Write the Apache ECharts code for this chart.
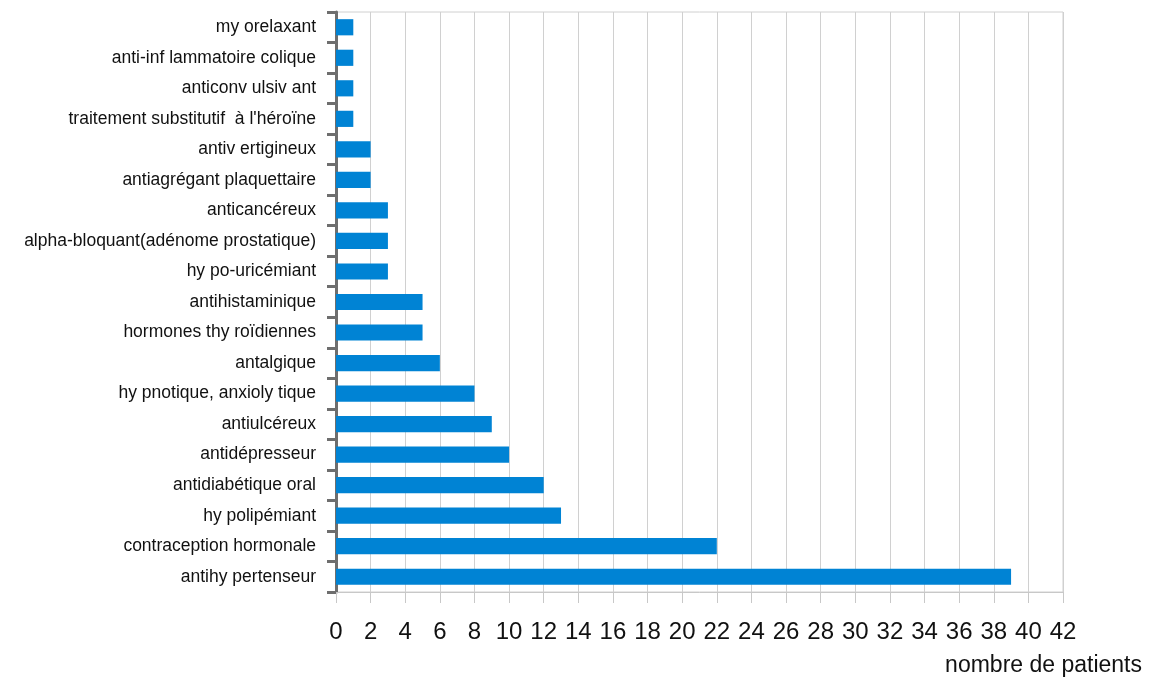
<!DOCTYPE html>
<html><head><meta charset="utf-8">
<script src="https://cdn.jsdelivr.net/npm/echarts@6/dist/echarts.min.js"></script>
<style>html,body{margin:0;padding:0;background:#fff}#c{width:1152px;height:684px}</style>
</head><body><div id="c"></div>
<script>
const categories = [
  "my orelaxant",
  "anti-inf lammatoire colique",
  "anticonv ulsiv ant",
  "traitement substitutif  à l'héroïne",
  "antiv ertigineux",
  "antiagrégant plaquettaire",
  "anticancéreux",
  "alpha-bloquant(adénome prostatique)",
  "hy po-uricémiant",
  "antihistaminique",
  "hormones thy roïdiennes",
  "antalgique",
  "hy pnotique, anxioly tique",
  "antiulcéreux",
  "antidépresseur",
  "antidiabétique oral",
  "hy polipémiant",
  "contraception hormonale",
  "antihy pertenseur"
];
const patients = [1,1,1,1,2,2,3,3,3,5,5,6,8,9,10,12,13,22,39];
const xMin = 0, xMax = 42, xStep = 2;
const xAxisName = "nombre de patients";

const chart = echarts.init(document.getElementById('c'));
chart.setOption({
  animation: false,
  grid: {left: 336, right: 89, top: 12, bottom: 92, show: true, borderColor: '#d0d0d0', borderWidth: 1},
  xAxis: {
    type: 'value', min: xMin, max: xMax, interval: xStep,
    name: xAxisName, nameLocation: 'end',
    nameTextStyle: {fontFamily: 'Liberation Sans', fontSize: 23, color: '#111', align: 'right', verticalAlign: 'top', padding: [62, 0, 0, 0]},
    nameGap: 79,
    axisLine: {show: true, lineStyle: {color: '#c8c8c8', width: 1}},
    axisTick: {show: true, length: 11, lineStyle: {color: '#c8c8c8'}},
    splitLine: {show: true, lineStyle: {color: '#d0d0d0', width: 1}},
    axisLabel: {fontFamily: 'Liberation Sans', fontSize: 24, color: '#111', margin: 28}
  },
  yAxis: {
    type: 'category', data: categories, inverse: true,
    axisLine: {show: true, lineStyle: {color: '#6e6e6e', width: 3}},
    axisTick: {show: true, length: 9, alignWithLabel: false, lineStyle: {color: '#6e6e6e', width: 3}},
    axisLabel: {fontFamily: 'Liberation Sans', fontSize: 17.5, color: '#111', margin: 20},
    splitLine: {show: false}
  },
  series: [{
    type: 'bar', data: patients, barCategoryGap: '47%',
    itemStyle: {color: '#0083d4'}
  }]
});
</script></body></html>
